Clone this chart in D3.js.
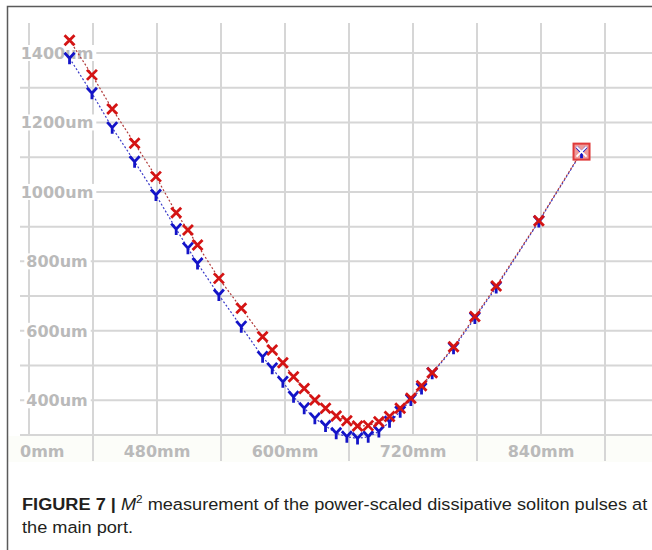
<!DOCTYPE html>
<html>
<head>
<meta charset="utf-8">
<script src="https://cdn.jsdelivr.net/npm/d3@7"></script>
<style>
  body { margin: 0; background: #fff; }
  svg { display: block; }
</style>
</head>
<body>
<div id="chart"></div>
<script>
// measurement positions (mm) and beam diameters (um)
var zPos = [398, 419, 438, 459, 479, 498, 509, 518, 538, 559, 579, 588, 598, 608, 618, 628,
            638, 648, 658, 668, 678, 688, 698, 708, 718, 728, 738, 758, 778, 798, 838, 878];
var diamX = [1437, 1337, 1239, 1140, 1044, 940, 890, 847, 751, 665, 583, 545, 508, 468, 434, 401,
             377, 355, 341, 326, 327, 338, 353, 377, 406, 442, 479, 554, 641, 729, 917, 1116];
var diamY = [1385, 1284, 1185, 1087, 991, 893, 838, 794, 703, 612, 525, 492, 453, 410, 377, 348,
             326, 305, 295, 290, 295, 310, 338, 367, 401, 434, 478, 550, 637, 725, 915, 1114];

var yTicks = [400, 600, 800, 1000, 1200, 1400];
var xTicks = [360, 480, 600, 720, 840];
var xTickLabels = ["0mm", "480mm", "600mm", "720mm", "840mm"];

var W = 652, H = 550;
var svg = d3.select("#chart").append("svg").attr("width", W).attr("height", H);

var x = d3.scaleLinear().domain([360, 900]).range([29, 605]);
var y = d3.scaleLinear().domain([300, 1400]).range([435, 53]);

var gridColor = "#d6d6d6",
    labelColor = "#bababa";

// label band under the plot
svg.append("rect").attr("x", 8).attr("y", 436).attr("width", W - 8).attr("height", 26)
  .attr("fill", "#fcfdf9");

var grid = svg.append("g");

// horizontal grid lines every 100um
grid.selectAll("line.h").data(d3.range(300, 1401, 100)).enter().append("line")
  .attr("x1", 20).attr("x2", W)
  .attr("y1", function(d) { return y(d); }).attr("y2", function(d) { return y(d); })
  .attr("stroke", gridColor).attr("stroke-width", 2);

// vertical grid lines every 60mm, the odd ones run through the label band
grid.selectAll("line.v").data(d3.range(360, 901, 60)).enter().append("line")
  .attr("x1", function(d) { return x(d); }).attr("x2", function(d) { return x(d); })
  .attr("y1", 23)
  .attr("y2", function(d, i) { return i % 2 ? 461 : 436; })
  .attr("stroke", gridColor).attr("stroke-width", 2);

// y labels with a white box so the grid line starts after them
var yl = svg.append("g").selectAll("g").data(yTicks).enter().append("g")
  .attr("transform", function(d) { return "translate(57," + y(d) + ")"; });
yl.append("text")
  .attr("text-anchor", "middle").attr("dy", "0.37em")
  .attr("font-family", "DejaVu Sans").attr("font-weight", "bold").attr("font-size", 16)
  .attr("fill", labelColor)
  .text(function(d) { return d + "um"; });
yl.each(function() {
  var b = d3.select(this).select("text").node().getBBox();
  d3.select(this).insert("rect", "text")
    .attr("x", b.x - 2).attr("y", -8).attr("width", b.width + 5).attr("height", 16)
    .attr("fill", "#fff");
});

// x labels
svg.append("g").selectAll("text").data(xTicks).enter().append("text")
  .attr("x", function(d, i) { return i === 0 ? 20 : x(d); })
  .attr("y", 457)
  .attr("text-anchor", function(d, i) { return i === 0 ? "start" : "middle"; })
  .attr("font-family", "DejaVu Sans").attr("font-weight", "bold").attr("font-size", 16)
  .attr("fill", labelColor)
  .text(function(d, i) { return xTickLabels[i]; });

// series lines
var line = function(vals) {
  return d3.line().x(function(d) { return x(d); }).y(function(d, i) { return y(vals[i]); })(zPos);
};
svg.append("path").attr("d", line(diamY)).attr("fill", "none")
  .attr("stroke", "#3a3ac8").attr("stroke-width", 1.2).attr("stroke-dasharray", "2,2");
svg.append("path").attr("d", line(diamX)).attr("fill", "none")
  .attr("stroke", "#b03a3a").attr("stroke-width", 1.2).attr("stroke-dasharray", "2,2");

// last point highlighted with a box
var last = zPos.length - 1;
svg.append("rect")
  .attr("x", x(zPos[last]) - 8).attr("y", y(diamX[last]) - 8)
  .attr("width", 16).attr("height", 16)
  .attr("fill", "#ee9a9a").attr("stroke", "#e03a3a").attr("stroke-width", 2);

// blue Y markers
svg.append("g").selectAll("path").data(zPos).enter().append("path")
  .attr("transform", function(d, i) { return "translate(" + x(d) + "," + y(diamY[i]) + ")"; })
  .attr("d", "M-5,-5.5L0,0L5,-5.5M0,0L0,6")
  .attr("fill", "none").attr("stroke", "#1414c8").attr("stroke-width", 2.8);

// red x markers
svg.append("g").selectAll("path").data(zPos).enter().append("path")
  .attr("transform", function(d, i) { return "translate(" + x(d) + "," + y(diamX[i]) + ")"; })
  .attr("d", "M-5,-5L5,5M-5,5L5,-5")
  .attr("fill", "none")
  .attr("stroke", function(d, i) { return i === last ? "#ffffff" : "#d41414"; })
  .attr("stroke-width", function(d, i) { return i === last ? 1.8 : 2.8; });

// frame
svg.append("path").attr("d", "M7.5," + H + "V6.5H" + W)
  .attr("fill", "none").attr("stroke", "#5a5a5a").attr("stroke-width", 1.5);

// caption
var cap = svg.append("g").attr("font-family", "Liberation Sans, Arial, sans-serif")
  .attr("font-size", 17).attr("fill", "#231f20");
var t1 = cap.append("text").attr("x", 22).attr("y", 510);
t1.append("tspan").attr("font-weight", "bold").text("FIGURE 7 | ");
t1.append("tspan").attr("font-style", "italic").text("M");
t1.append("tspan").attr("font-size", 11).attr("dy", -7).text("2");
t1.append("tspan").attr("dy", 7).text(" measurement of the power-scaled dissipative soliton pulses at");
var t2 = cap.append("text").attr("x", 22).attr("y", 533).text("the main port.");

// squeeze the first caption line into the width it has in the figure
var w1 = t1.node().getComputedTextLength();
var k = 626 / w1;
cap.selectAll("text").attr("transform", "translate(22,0) scale(" + k + ",1) translate(-22,0)");
</script>
</body>
</html>
